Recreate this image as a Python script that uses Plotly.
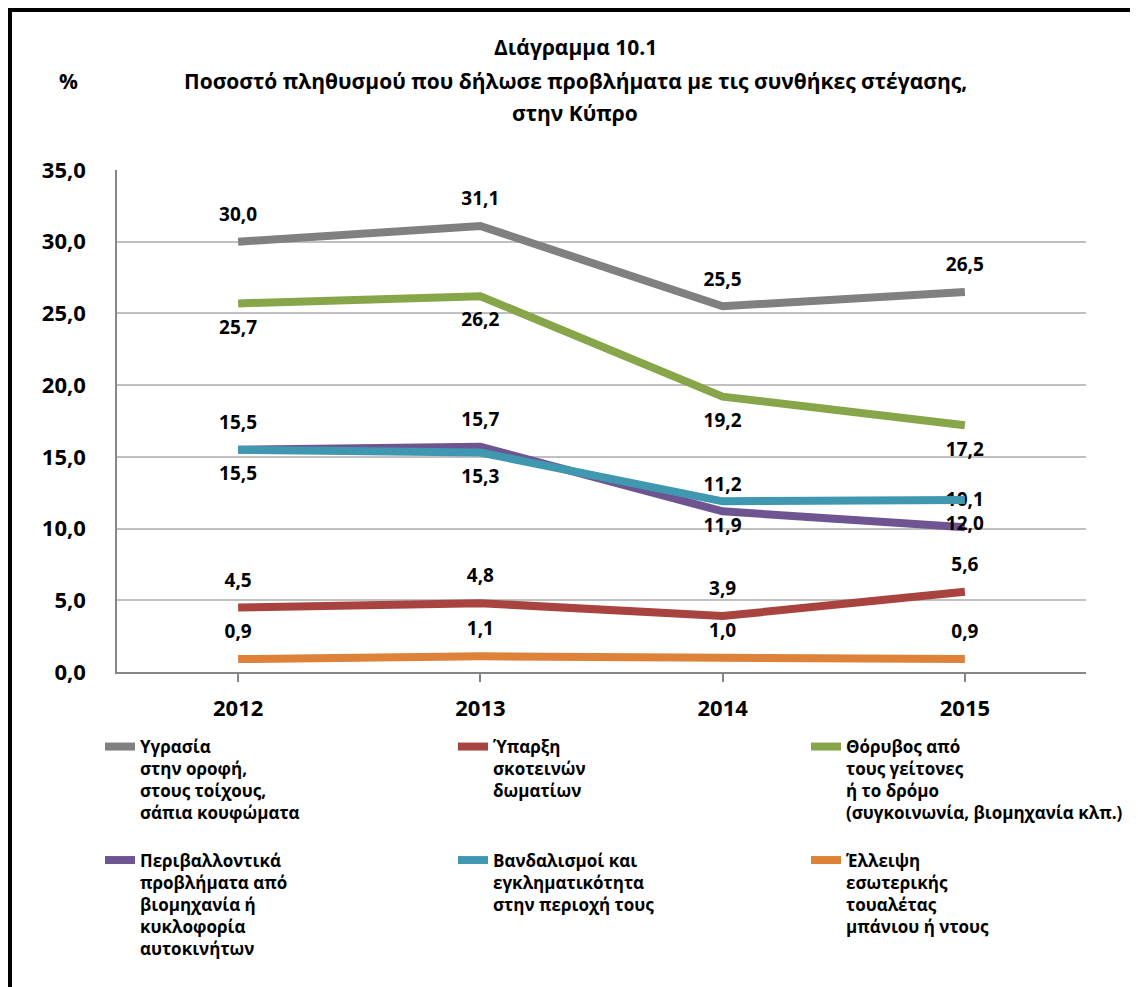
import plotly.graph_objects as go

# data
years = ["2012", "2013", "2014", "2015"]

damp = [30.0, 31.1, 25.5, 26.5]
dark_rooms = [4.5, 4.8, 3.9, 5.6]
noise = [25.7, 26.2, 19.2, 17.2]
pollution = [15.5, 15.7, 11.2, 10.1]
crime = [15.5, 15.3, 11.9, 12.0]
no_toilet = [0.9, 1.1, 1.0, 0.9]

names = [
    "Υγρασία<br>στην οροφή,<br>στους τοίχους,<br>σάπια κουφώματα",
    "Ύπαρξη<br>σκοτεινών<br>δωματίων",
    # trailing blank line leaves a gap before the second legend row
    "Θόρυβος από<br>τους γείτονες<br>ή το δρόμο<br>(συγκοινωνία, βιομηχανία κλπ.)<br> ",
    "Περιβαλλοντικά<br>προβλήματα από<br>βιομηχανία ή<br>κυκλοφορία<br>αυτοκινήτων",
    "Βανδαλισμοί και<br>εγκληματικότητα<br>στην περιοχή τους",
    "Έλλειψη<br>εσωτερικής<br>τουαλέτας<br>μπάνιου ή ντους",
]
series = [damp, dark_rooms, noise, pollution, crime, no_toilet]
colors = ["#808080", "#A94340", "#87A64A", "#6E5490", "#3F97B0", "#DE8139"]
label_pos = ["top center", "top center", "bottom center",
             "top center", "bottom center", "top center"]

W, H = 1138, 987
OFF = 8  # page body margin shifts the figure by 8px
L, R, T, B = 117 - OFF, W - 1086 + OFF, 170 - OFF, H - 672 + OFF
FONT = "Open Sans"


# screen pixel -> paper coords
def px(x):
    return (x - OFF - L) / (W - L - R)


def py(y):
    return (H - B - (y - OFF)) / (H - T - B)


fig = go.Figure()
for name, vals, col, pos in zip(names, series, colors, label_pos):
    fig.add_trace(go.Scatter(
        x=years, y=vals, name=name,
        mode="lines+markers+text",
        line=dict(color=col, width=8),
        marker=dict(size=24, color="rgba(0,0,0,0)"),
        texttemplate="%{y:.1f}",
        textposition=pos,
        textfont=dict(family=FONT, size=19, color="black", weight="bold"),
        hoverinfo="x+y",
    ))

fig.update_layout(
    width=W, height=H,
    margin=dict(l=L, r=R, t=T, b=B, autoexpand=False),
    paper_bgcolor="white", plot_bgcolor="white",
    separators=", ",
    font=dict(family=FONT, color="black"),
    showlegend=True,
    legend=dict(
        orientation="h",
        xref="paper", yref="paper",
        x=px(100), y=py(729),
        xanchor="left", yanchor="top",
        entrywidth=308, entrywidthmode="pixels",
        valign="top", traceorder="normal",
        font=dict(family=FONT, size=17, color="black", weight="bold"),
    ),
)

fig.update_xaxes(
    type="category", range=[-0.5, 3.5],
    showline=True, linecolor="#868686", linewidth=1.5,
    ticks="outside", ticklen=8, tickcolor="#868686", tickwidth=1.5,
    ticklabelstandoff=8,
    tickfont=dict(family=FONT, size=22, color="black", weight="bold"),
    showgrid=False, zeroline=False,
)
fig.update_yaxes(
    range=[0, 35], dtick=5, tickformat=".1f",
    showline=True, linecolor="#868686", linewidth=1.5,
    showgrid=True, gridcolor="#c0c0c0", gridwidth=1.5,
    ticks="", ticklabelstandoff=25,
    tickfont=dict(family=FONT, size=22, color="black", weight="bold"),
    zeroline=False,
)

# title lines and unit
title_font = dict(family=FONT, size=21, color="black", weight="bold")
for txt, y in [("Διάγραμμα 10.1", 47),
               ("Ποσοστό πληθυσμού που δήλωσε προβλήματα με τις συνθήκες στέγασης,", 81),
               ("στην Κύπρο", 113)]:
    fig.add_annotation(text=txt, xref="paper", yref="paper", x=px(575), y=py(y),
                       showarrow=False, font=title_font, xanchor="center", yanchor="middle")
fig.add_annotation(text="%", xref="paper", yref="paper", x=px(68), y=py(81),
                   showarrow=False, font=title_font, xanchor="center", yanchor="middle")

# outer frame of the chart
fig.add_shape(type="rect", xref="paper", yref="paper",
              x0=px(10), y0=py(10), x1=px(W + 20), y1=py(H + 20),
              line=dict(color="black", width=4), fillcolor="rgba(0,0,0,0)", layer="above")

fig.write_html("out.html")
